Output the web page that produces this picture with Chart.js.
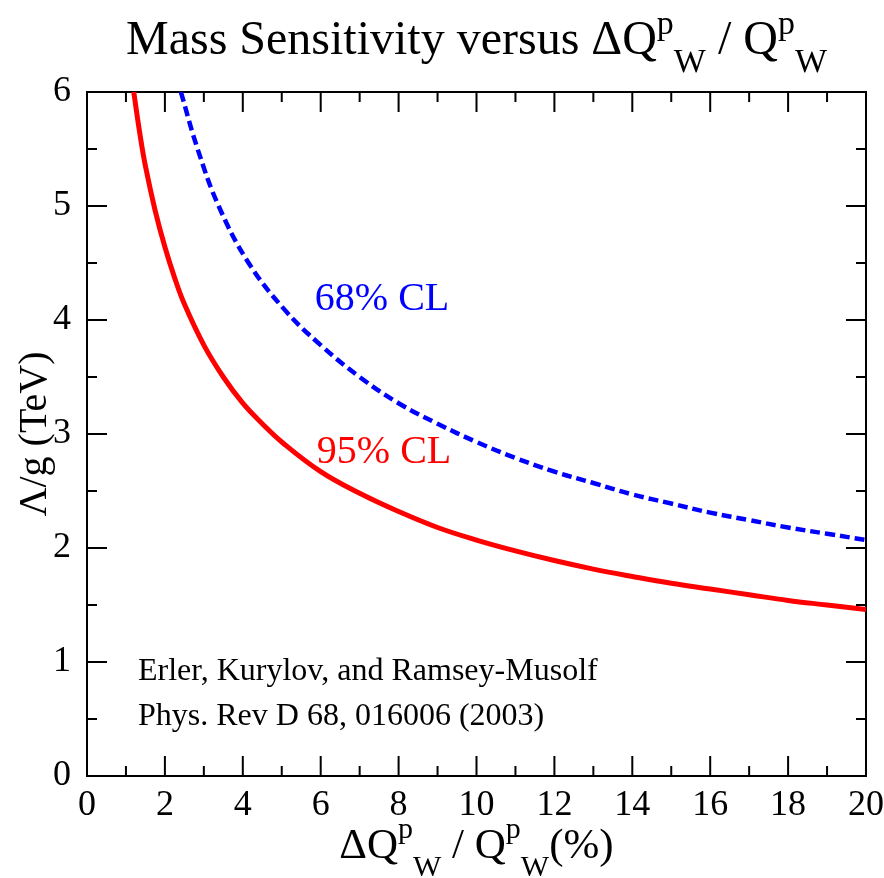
<!DOCTYPE html>
<html>
<head>
<meta charset="utf-8">
<script src="https://cdn.jsdelivr.net/npm/chart.js@4"></script>
<style>
  body { margin: 0; background: #fff; }
  canvas { display: block; }
</style>
</head>
<body>
<canvas id="c" width="884" height="878"></canvas>
<script>
// values
const redX = [1.2, 1.35, 1.5, 1.75, 2, 2.25, 2.5, 3, 3.5, 4, 4.5, 5, 6, 7, 8, 9, 10, 11, 12, 13, 14, 15, 16, 17, 18, 19, 20];
const redY = [6.0, 5.65, 5.35, 4.96, 4.64, 4.37, 4.14, 3.78, 3.5, 3.27, 3.09, 2.93, 2.67, 2.48, 2.32, 2.18, 2.07, 1.975, 1.89, 1.815, 1.75, 1.69, 1.64, 1.59, 1.54, 1.5, 1.46];
const blueX = [2.41, 2.84, 3.38, 4.15, 5.1, 6, 7, 8, 9, 10, 11, 12, 13, 14, 15, 16, 17, 18, 19, 20];
const blueY = [6.0, 5.5, 5.0, 4.5, 4.08, 3.78, 3.5, 3.27, 3.09, 2.93, 2.79, 2.67, 2.57, 2.47, 2.39, 2.31, 2.245, 2.18, 2.125, 2.07];
const xTicks = [0, 2, 4, 6, 8, 10, 12, 14, 16, 18, 20];
const yTicks = [0, 1, 2, 3, 4, 5, 6];

const SERIF = '"Liberation Serif", "Times New Roman", serif';

function toPoints(xs, ys) {
    return xs.map(function (x, i) { return { x: x, y: ys[i] }; });
}

// draw a row of text pieces (with super/subscripts) centred on cx
function drawRuns(ctx, runs, cx, baseline) {
    let total = 0;
    runs.forEach(function (r) {
        ctx.font = r.size + 'px ' + SERIF;
        r.w = ctx.measureText(r.t).width;
        total += r.w;
    });
    let x = cx - total / 2;
    ctx.textAlign = 'left';
    ctx.textBaseline = 'alphabetic';
    runs.forEach(function (r) {
        ctx.font = r.size + 'px ' + SERIF;
        ctx.fillText(r.t, x, baseline + (r.dy || 0));
        x += r.w;
    });
}

const framePlugin = {
    id: 'frame',
    beforeDatasetsDraw(chart) {
        const ctx = chart.ctx;
        const a = chart.chartArea;
        const xs = chart.scales.x, ys = chart.scales.y;
        ctx.save();
        ctx.strokeStyle = '#000';
        ctx.lineWidth = 2;
        ctx.strokeRect(a.left, a.top, a.right - a.left, a.bottom - a.top);
        ctx.beginPath();
        // x ticks, every 1 (major at even numbers)
        for (let v = 1; v < 20; v++) {
            const px = xs.getPixelForValue(v);
            const len = v % 2 === 0 ? 20 : 10;
            ctx.moveTo(px, a.bottom); ctx.lineTo(px, a.bottom - len);
            ctx.moveTo(px, a.top); ctx.lineTo(px, a.top + len);
        }
        // y ticks, every 0.5 (major at integers)
        for (let v = 0.5; v < 6; v += 0.5) {
            const py = ys.getPixelForValue(v);
            const len = Number.isInteger(v) ? 20 : 10;
            ctx.moveTo(a.left, py); ctx.lineTo(a.left + len, py);
            ctx.moveTo(a.right, py); ctx.lineTo(a.right - len, py);
        }
        ctx.stroke();
        ctx.restore();
    },
    afterDraw(chart) {
        const ctx = chart.ctx;
        const a = chart.chartArea;
        const xs = chart.scales.x, ys = chart.scales.y;
        const cx = (a.left + a.right) / 2;
        ctx.save();
        ctx.fillStyle = '#000';

        // title
        drawRuns(ctx, [
            { t: 'Mass Sensitivity versus \u0394Q', size: 48 },
            { t: 'p', size: 34, dy: -20 },
            { t: 'W', size: 34, dy: 18 },
            { t: ' / Q', size: 48 },
            { t: 'p', size: 34, dy: -20 },
            { t: 'W', size: 34, dy: 18 }
        ], cx, 54);

        // x axis title
        drawRuns(ctx, [
            { t: '\u0394Q', size: 43 },
            { t: 'p', size: 30, dy: -20 },
            { t: 'W', size: 30, dy: 18 },
            { t: ' / Q', size: 43 },
            { t: 'p', size: 30, dy: -20 },
            { t: 'W', size: 30, dy: 18 },
            { t: '(%)', size: 43 }
        ], cx, 858);

        // y axis title
        ctx.save();
        ctx.translate(46, (a.top + a.bottom) / 2);
        ctx.rotate(-Math.PI / 2);
        drawRuns(ctx, [{ t: '\u039B/g (TeV)', size: 40 }], 0, 0);
        ctx.restore();

        // curve labels
        ctx.textAlign = 'left';
        ctx.textBaseline = 'alphabetic';
        ctx.font = '40px ' + SERIF;
        ctx.fillStyle = '#0000ff';
        ctx.fillText('68% CL', xs.getPixelForValue(5.85), ys.getPixelForValue(4.09));
        ctx.fillStyle = '#ff0000';
        ctx.fillText('95% CL', xs.getPixelForValue(5.9), ys.getPixelForValue(2.75));

        // reference
        ctx.fillStyle = '#000';
        ctx.font = '32px ' + SERIF;
        ctx.fillText('Erler, Kurylov, and Ramsey-Musolf', xs.getPixelForValue(1.31), ys.getPixelForValue(0.84));
        ctx.fillText('Phys. Rev D 68, 016006 (2003)', xs.getPixelForValue(1.31), ys.getPixelForValue(0.45));
        ctx.restore();
    }
};

new Chart(document.getElementById('c'), {
    type: 'line',
    data: {
        datasets: [
            {
                label: '95% CL',
                data: toPoints(redX, redY),
                borderColor: '#ff0000',
                borderWidth: 5,
                pointRadius: 0,
                tension: 0.4,
                fill: false
            },
            {
                label: '68% CL',
                data: toPoints(blueX, blueY),
                borderColor: '#0000ff',
                borderWidth: 4.5,
                borderDash: [10, 5],
                pointRadius: 0,
                tension: 0.4,
                fill: false
            }
        ]
    },
    options: {
        responsive: false,
        animation: false,
        layout: { padding: { left: 0, top: 92, right: 18, bottom: 0 } },
        plugins: {
            legend: { display: false },
            title: { display: false },
            tooltip: { enabled: false }
        },
        scales: {
            x: {
                type: 'linear',
                min: 0,
                max: 20,
                afterFit: function (scale) {
                    scale.height = 102;
                    scale.paddingLeft = 0;
                    scale.paddingRight = 0;
                },
                afterBuildTicks: function (scale) {
                    scale.ticks = xTicks.map(function (v) { return { value: v }; });
                },
                grid: { display: false },
                border: { display: false },
                ticks: {
                    color: '#000',
                    padding: 0,
                    maxRotation: 0,
                    font: { family: SERIF, size: 36 }
                }
            },
            y: {
                type: 'linear',
                min: 0,
                max: 6,
                afterFit: function (scale) {
                    scale.width = 87;
                    scale.paddingTop = 0;
                    scale.paddingBottom = 0;
                },
                afterBuildTicks: function (scale) {
                    scale.ticks = yTicks.map(function (v) { return { value: v }; });
                },
                grid: { display: false },
                border: { display: false },
                ticks: {
                    color: '#000',
                    padding: 8,
                    font: { family: SERIF, size: 36 }
                }
            }
        }
    },
    plugins: [framePlugin]
});
</script>
</body>
</html>
